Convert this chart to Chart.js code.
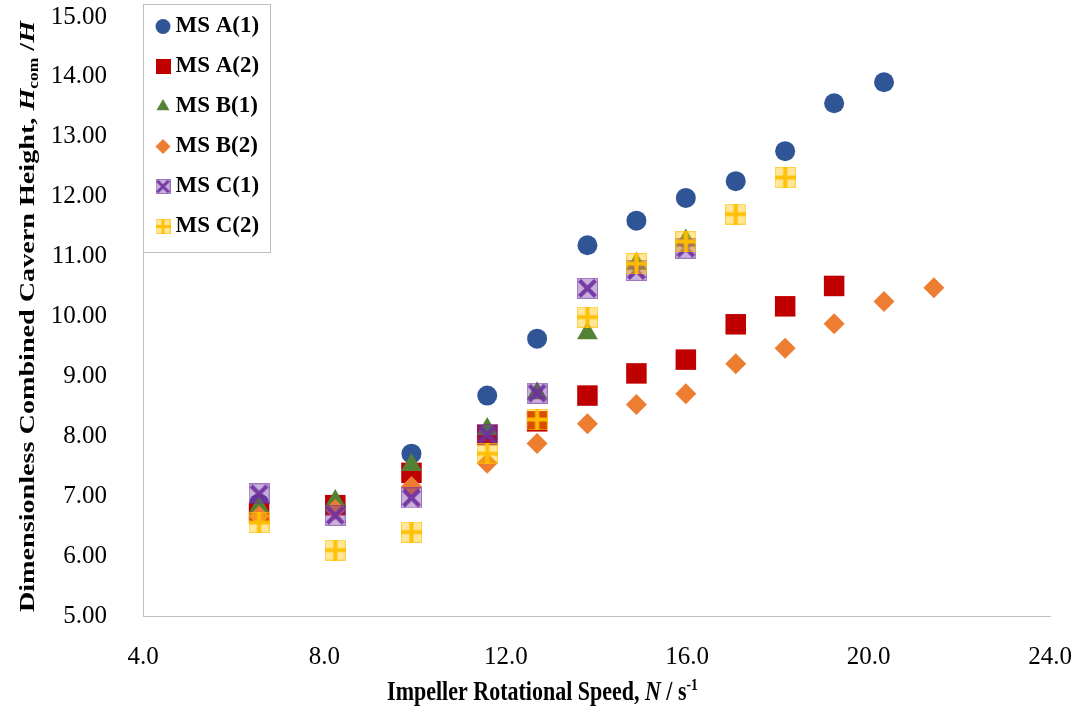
<!DOCTYPE html>
<html>
<head>
<meta charset="utf-8">
<script src="https://cdn.jsdelivr.net/npm/chart.js@4.4.1/dist/chart.umd.min.js"></script>
<style>
html, body { margin: 0; padding: 0; background: #fff; }
</style>
</head>
<body>
<canvas id="cavern" width="1085" height="713"></canvas>
<script>
// impeller speed N (1/s) of each run
var speeds = [6.56, 8.24, 9.92, 11.59, 12.69, 13.80, 14.88, 15.97, 17.07, 18.16, 19.24, 20.34, 21.44];
// Hcom/H for each series, null where there is no point
var msA1 = [6.88, 6.85, 7.71, 8.68, 9.63, 11.19, 11.60, 11.98, 12.26, 12.76, 13.56, 13.91, null];
var msA2 = [6.72, 6.85, 7.39, 8.02, 8.25, 8.68, 9.05, 9.28, 9.87, 10.17, 10.51, null, null];
var msB1 = [6.82, 6.92, 7.52, 8.12, 8.72, 9.72, 10.88, 11.27, null, null, null, null, null];
var msB2 = [6.67, 6.78, 7.16, 7.55, 7.88, 8.21, 8.53, 8.71, 9.21, 9.47, 9.88, 10.25, 10.48];
var msC1 = [7.04, 6.68, 6.97, 8.03, 8.72, 10.47, 10.77, 11.14, null, null, null, null, null];
var msC2 = [6.56, 6.10, 6.40, 7.71, 8.28, 9.99, 10.88, 11.25, 11.71, 12.32, null, null, null];
var seriesNames = ["MS A(1)", "MS A(2)", "MS B(1)", "MS B(2)", "MS C(1)", "MS C(2)"];
var xTicks = [4, 8, 12, 16, 20, 24];
var yTicks = [5, 6, 7, 8, 9, 10, 11, 12, 13, 14, 15];

var serif = "'Liberation Serif', 'Times New Roman', serif";

function pts(vals) {
  return speeds.map(function (s, i) { return {x: s, y: vals[i]}; })
    .filter(function (p) { return p.y !== null; });
}

// square marker with an X or a plus on it (Excel style)
function boxMarker(size, fill, edge, ink, kind) {
  var c = document.createElement("canvas");
  c.width = size; c.height = size;
  var g = c.getContext("2d");
  g.fillStyle = fill;
  g.fillRect(0, 0, size, size);
  g.strokeStyle = edge;
  g.lineWidth = 1;
  g.strokeRect(0.5, 0.5, size - 1, size - 1);
  g.strokeStyle = ink;
  g.lineWidth = size * 0.2;
  g.beginPath();
  if (kind === "x") {
    g.moveTo(size * 0.12, size * 0.12); g.lineTo(size * 0.88, size * 0.88);
    g.moveTo(size * 0.88, size * 0.12); g.lineTo(size * 0.12, size * 0.88);
  } else {
    g.moveTo(0, size / 2); g.lineTo(size, size / 2);
    g.moveTo(size / 2, 0); g.lineTo(size / 2, size);
  }
  g.stroke();
  return c;
}
function solidSquare(size, fill) {
  var c = document.createElement("canvas");
  c.width = size; c.height = size;
  var g = c.getContext("2d");
  g.fillStyle = fill;
  g.fillRect(0, 0, size, size);
  return c;
}

var purpleX = boxMarker(21, "rgba(112,48,160,0.38)", "rgba(112,48,160,0.45)", "rgba(112,48,160,0.92)", "x");
var yellowPlus = boxMarker(21, "rgba(255,192,0,0.40)", "rgba(255,192,0,0.55)", "rgba(255,192,0,0.95)", "+");
var legendIcons = {
  1: solidSquare(15, "#c00000"),
  4: boxMarker(15, "rgba(112,48,160,0.38)", "rgba(112,48,160,0.45)", "rgba(112,48,160,0.92)", "x"),
  5: boxMarker(15, "rgba(255,192,0,0.40)", "rgba(255,192,0,0.55)", "rgba(255,192,0,0.95)", "+")
};

// legend sits inside the plot, top left, with a grey frame
var legendSpot = {
  id: "legendSpot",
  afterLayout: function (chart) {
    var lg = chart.legend, a = chart.chartArea;
    lg.left = a.left + 2;
    lg.top = a.top - 19;
    lg.right = lg.left + lg.width;
    lg.bottom = lg.top + lg.height;
  },
  afterDraw: function (chart) {
    var ctx = chart.ctx, a = chart.chartArea;
    ctx.save();
    ctx.strokeStyle = "#bfbfbf";
    ctx.lineWidth = 1;
    ctx.strokeRect(a.left + 0.5, 4.5, 127, 248);
    ctx.restore();
  }
};

// axis titles with italic / sub / superscript parts
function drawRich(ctx, segs, size) {
  var total = 0;
  segs.forEach(function (s) {
    ctx.font = (s.it ? "italic " : "") + "bold " + (s.small ? size * 0.62 : size) + "px " + serif;
    s.w = ctx.measureText(s.t).width;
    total += s.w;
  });
  var x = -total / 2;
  ctx.textBaseline = "alphabetic";
  ctx.fillStyle = "#000";
  segs.forEach(function (s) {
    ctx.font = (s.it ? "italic " : "") + "bold " + (s.small ? size * 0.62 : size) + "px " + serif;
    ctx.fillText(s.t, x, s.shift || 0);
    x += s.w;
  });
}
var axisTitles = {
  id: "axisTitles",
  afterDraw: function (chart) {
    var ctx = chart.ctx, a = chart.chartArea;
    ctx.save();
    ctx.translate(chart.width / 2, 700);
    ctx.scale(1, 1.25);
    drawRich(ctx, [
      {t: "Impeller Rotational Speed, "}, {t: "N", it: true}, {t: " / s"},
      {t: "-1", small: true, shift: -8}
    ], 22);
    ctx.restore();

    ctx.save();
    ctx.translate(34, (a.top + a.bottom) / 2);
    ctx.rotate(-Math.PI / 2);
    ctx.scale(1.28, 1);
    drawRich(ctx, [
      {t: "Dimensionless Combined Cavern Height, "}, {t: "H", it: true},
      {t: "com", small: true, shift: 4}, {t: " /"}, {t: "H", it: true}
    ], 22);
    ctx.restore();
  }
};

// tick padding must not push the plot area in
function noOverflow(s) {
  s.paddingTop = 0; s.paddingBottom = 0;
  s.paddingLeft = 0; s.paddingRight = 0;
}

var tickFont = {family: serif, size: 25};
var axisLine = {display: true, color: "#bfbfbf", width: 1};

new Chart(document.getElementById("cavern"), {
  type: "scatter",
  data: {
    datasets: [
      {label: seriesNames[0], data: pts(msA1), pointStyle: "circle", pointRadius: 10,
       backgroundColor: "#2f5597", borderColor: "#2f5597", borderWidth: 0, order: 6},
      {label: seriesNames[1], data: pts(msA2), pointStyle: "rect", pointRadius: 14.5,
       backgroundColor: "#c00000", borderColor: "#c00000", borderWidth: 0, order: 5},
      {label: seriesNames[2], data: pts(msB1), pointStyle: "triangle", pointRadius: 12,
       backgroundColor: "#548235", borderColor: "#548235", borderWidth: 0, order: 4},
      {label: seriesNames[3], data: pts(msB2), pointStyle: "rectRot", pointRadius: 10.5,
       backgroundColor: "#ed7d31", borderColor: "#ed7d31", borderWidth: 0, order: 3},
      {label: seriesNames[4], data: pts(msC1), pointStyle: purpleX, pointRadius: 11,
       backgroundColor: "#7030a0", borderColor: "#7030a0", borderWidth: 0, order: 2},
      {label: seriesNames[5], data: pts(msC2), pointStyle: yellowPlus, pointRadius: 11,
       backgroundColor: "#ffc000", borderColor: "#ffc000", borderWidth: 0, order: 1}
    ]
  },
  options: {
    responsive: false,
    animation: false,
    layout: {autoPadding: false, padding: {top: 17, right: 35, left: 0, bottom: 0}},
    scales: {
      x: {
        type: "linear", min: 4, max: 24,
        afterBuildTicks: function (s) { s.ticks = xTicks.map(function (v) { return {value: v}; }); },
        afterFit: function (s) { s.height = 97; noOverflow(s); },
        grid: {display: false},
        border: axisLine,
        ticks: {color: "#000", font: tickFont, padding: 18,
                callback: function (v) { return v.toFixed(1); }}
      },
      y: {
        type: "linear", min: 5, max: 15,
        afterBuildTicks: function (s) { s.ticks = yTicks.map(function (v) { return {value: v}; }); },
        afterFit: function (s) { s.width = 143; noOverflow(s); },
        grid: {display: false},
        border: axisLine,
        ticks: {color: "#000", font: tickFont, padding: 28,
                callback: function (v) { return v.toFixed(2); }}
      }
    },
    plugins: {
      tooltip: {enabled: false},
      legend: {
        position: "chartArea",
        fullSize: false,
        align: "start",
        labels: {
          usePointStyle: true,
          boxWidth: 2,
          boxHeight: 10.6,
          padding: 17,
          color: "#000",
          font: {family: serif, size: 23, weight: "bold"},
          sort: function (a, b) { return a.datasetIndex - b.datasetIndex; },
          generateLabels: function (chart) {
            var items = Chart.defaults.plugins.legend.labels.generateLabels(chart);
            items.forEach(function (it) {
              if (legendIcons[it.datasetIndex]) it.pointStyle = legendIcons[it.datasetIndex];
            });
            return items;
          }
        }
      }
    }
  },
  plugins: [legendSpot, axisTitles]
});
</script>
</body>
</html>
